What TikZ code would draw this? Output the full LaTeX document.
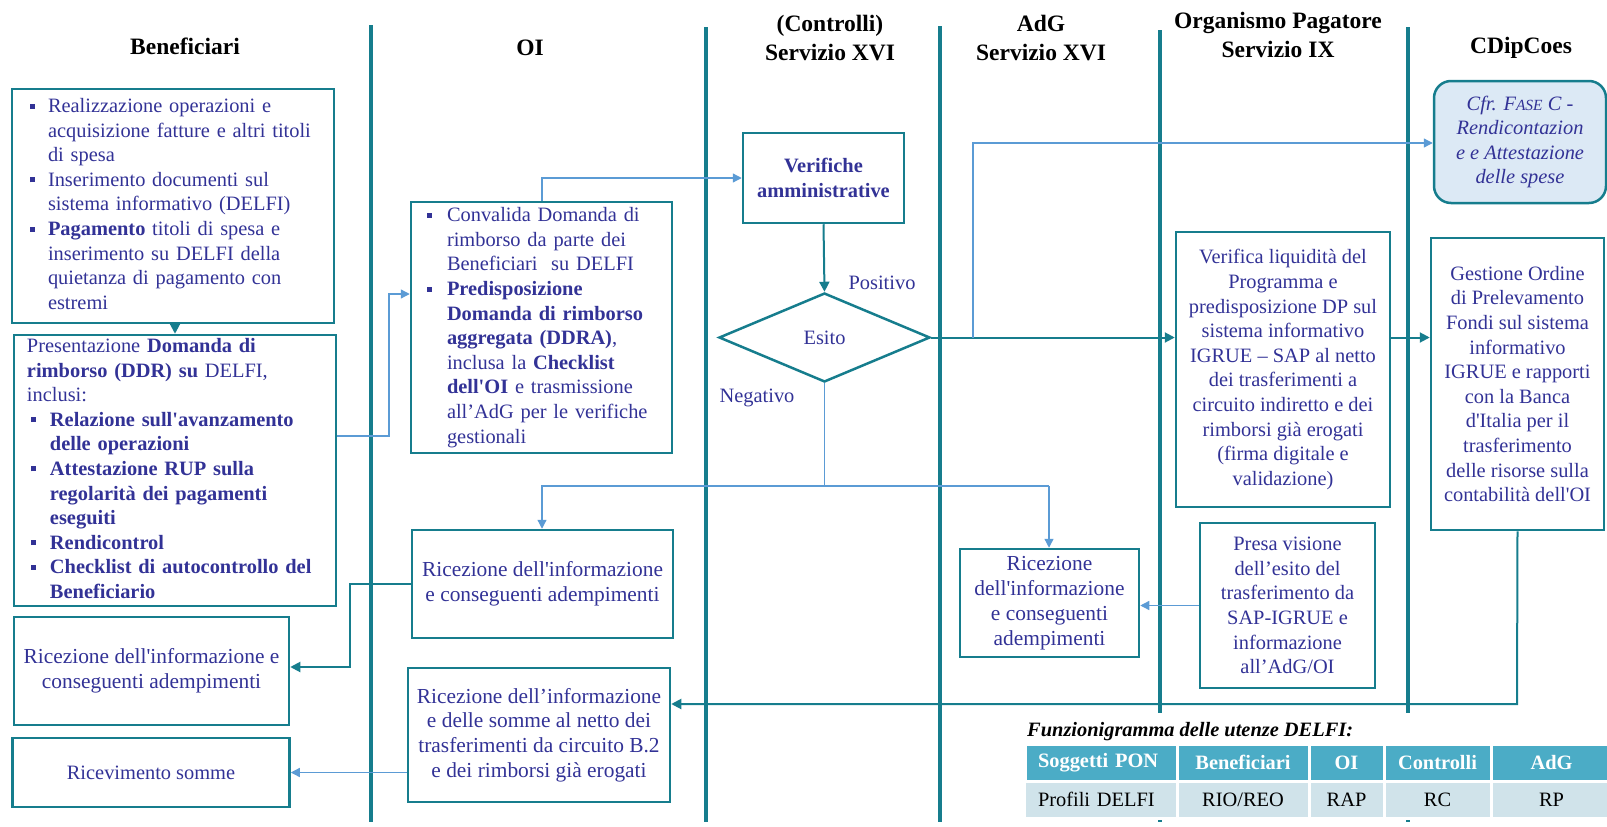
\documentclass[tikz,border=0pt]{standalone}
\usepackage{fontspec}
\setmainfont{Liberation Serif}[Ligatures=TeXOff]
\usetikzlibrary{arrows.meta,shapes.geometric}

\definecolor{tealc}{RGB}{22,125,141}
\definecolor{linkblue}{RGB}{91,155,213}
\definecolor{txtblue}{RGB}{50,50,150}
\definecolor{cfrfill}{RGB}{220,233,245}
\definecolor{thead}{RGB}{75,172,198}
\definecolor{trow}{RGB}{208,227,234}

\newcommand\fsBody{\fontsize{20.4}{24.6}\selectfont}
\newcommand\fsBig{\fontsize{21.4}{24.8}\selectfont}
\newcommand\fsHead{\fontsize{23.5}{29}\selectfont}
\newcommand\bul{\rule[4pt]{5pt}{5pt}}

\tikzset{
  lane/.style={draw=tealc, line width=3.5pt},
  box/.style={draw=tealc, line width=2.5pt, inner sep=0pt, text=txtblue,
    font=\fsBody, align=center},
  listbox/.style={box, align=left},
  head/.style={font=\fsHead\bfseries, align=center, text=black, inner sep=0pt},
  flow/.style={draw=tealc, line width=2pt, -{Triangle[length=10pt,width=10pt]}},
  link/.style={draw=linkblue, line width=1.3pt},
  linkarrow/.style={link, -{Triangle[length=9pt,width=9pt]}},
  lbl/.style={font=\fsBody, text=txtblue, inner sep=0pt},
  cell/.style={draw=white, line width=3pt, minimum height=37pt, inner sep=0pt, font=\fsBody},
  thcell/.style={cell, fill=thead, text=white, font=\fsBody\bfseries},
  tdcell/.style={cell, fill=trow, text=black},
}

\begin{document}
\begin{tikzpicture}[x=1pt,y=-1pt]
\useasboundingbox (0,0) rectangle (1607,827);

% swimlane separators
\foreach \lx/\ly in {371/25, 706/27, 940/26, 1160/30, 1408/27}
  \draw[lane] (\lx,\ly) -- (\lx,822);

% lane headings
\node[head] (hBen) at (185,46) {Beneficiari};
\node[head] (hOI)  at (530,48) {OI};
\node[head] (hCtl) at (830,38) {(Controlli)\\Servizio XVI};
\node[head] (hAdG) at (1041,38) {AdG\\Servizio XVI};
\node[head] (hOP)  at (1278,35) {Organismo Pagatore\\Servizio IX};
\node[head] (hCD)  at (1521,48) {CDipCoes};

% Beneficiari
\node[listbox, text width=286pt, inner xsep=18pt, minimum height=234pt] (b1) at (173,206) {%
\begin{tabular}{@{}p{18pt}@{}l@{}}
\bul & Realizzazione operazioni e\\
     & acquisizione fatture e altri titoli\\
     & di spesa\\
\bul & Inserimento documenti sul\\
     & sistema informativo (DELFI)\\
\bul & \textbf{Pagamento} titoli di spesa e\\
     & inserimento su DELFI della\\
     & quietanza di pagamento con\\
     & estremi
\end{tabular}};

\node[listbox, text width=296pt, inner xsep=13pt, minimum height=271pt] (b2) at (175,470.5) {%
\begin{tabular}{@{\hspace{4pt}}p{19pt}@{}l@{}}
\multicolumn{2}{@{}l@{}}{Presentazione \textbf{Domanda di}}\\
\multicolumn{2}{@{}l@{}}{\textbf{rimborso (DDR) su} DELFI,}\\
\multicolumn{2}{@{}l@{}}{inclusi:}\\
\bul & \textbf{Relazione sull'avanzamento}\\
     & \textbf{delle operazioni}\\
\bul & \textbf{Attestazione RUP sulla}\\
     & \textbf{regolarità dei pagamenti}\\
     & \textbf{eseguiti}\\
\bul & \textbf{Rendicontrol}\\
\bul & \textbf{Checklist di autocontrollo del}\\
     & \textbf{Beneficiario}
\end{tabular}};

\node[box, font=\fsBig, minimum width=275pt, minimum height=108pt] (b4) at (151.5,671)
  {Ricezione dell'informazione e\\conseguenti adempimenti};
\node[box, minimum width=277pt, minimum height=69pt] (b5) at (151,772.5) {Ricevimento somme};

% OI
\node[listbox, text width=229pt, inner xsep=16pt, minimum height=251pt] (b3) at (541.5,327.5) {%
\begin{tabular}{@{}p{20pt}@{}l@{}}
\bul & Convalida Domanda di\\
     & rimborso da parte dei\\
     & Beneficiari\ \ su DELFI\\
\bul & \textbf{Predisposizione}\\
     & \textbf{Domanda di rimborso}\\
     & \textbf{aggregata (DDRA)},\\
     & inclusa la \textbf{Checklist}\\
     & \textbf{dell'OI} e trasmissione\\
     & all’AdG per le verifiche\\
     & gestionali
\end{tabular}};

\node[box, font=\fsBig, minimum width=261pt, minimum height=108pt] (b6) at (542.5,584)
  {Ricezione dell'informazione\\e conseguenti adempimenti};
\node[box, font=\fsBig, minimum width=262pt, minimum height=134pt] (b7) at (539,735)
  {Ricezione dell’informazione\\e delle somme al netto dei\\trasferimenti da circuito B.2\\e dei rimborsi già erogati};

% Controlli
\node[box, font=\fsBody\bfseries, minimum width=161pt, minimum height=90pt] (ver) at (823.5,178)
  {Verifiche\\amministrative};
\node[box, diamond, minimum width=211pt, minimum height=89pt] (esito) at (824.5,337.5) {Esito};
\node[lbl] (pos) at (882,283) {Positivo};
\node[lbl] (neg) at (757,398) {Negativo};

% AdG
\node[box, font=\fsBig, minimum width=179pt, minimum height=108pt] (b8) at (1049.5,603)
  {Ricezione\\dell'informazione\\e conseguenti\\adempimenti};

% Organismo Pagatore
\node[box, minimum width=214pt, minimum height=275pt] (b9) at (1283,369.5)
  {Verifica liquidità del\\Programma e\\predisposizione DP sul\\sistema informativo\\IGRUE – SAP al netto\\dei trasferimenti a\\circuito indiretto e dei\\rimborsi già erogati\\(firma digitale e\\validazione)};
\node[box, minimum width=175pt, minimum height=165pt] (b10) at (1287.5,605.5)
  {Presa visione\\dell’esito del\\trasferimento da\\SAP-IGRUE e\\informazione\\all’AdG/OI};

% CDipCoes
\node[box, rounded corners=17pt, fill=cfrfill, font=\fsBody\itshape, minimum width=172pt, minimum height=122pt] (cfr) at (1520,142)
  {Cfr. F{\fontsize{15.5}{24.6}\selectfont ASE} C -\\Rendicontazion\\e e Attestazione\\delle spese};
\node[box, minimum width=173pt, minimum height=292pt] (gest) at (1517.5,384)
  {Gestione Ordine\\di Prelevamento\\Fondi sul sistema\\informativo\\IGRUE e rapporti\\con la Banca\\d'Italia per il\\trasferimento\\delle risorse sulla\\contabilità dell'OI};

% bend points
\coordinate (k2) at (389,436);
\coordinate (k2t) at (389,294);
\coordinate (k3) at (542,178);
\coordinate (k6) at (973,143);
\coordinate (k8) at (1517,704);
\coordinate (k9a) at (542,486);
\coordinate (k9b) at (1049,486);
\coordinate (k11) at (350,667);

% connectors
\draw[flow] (b1.south -| b2.north) -- (b2.north);
\draw[linkarrow] (b2.east |- k2) -- (k2) -- (k2t) -- (k2t -| b3.west);
\draw[linkarrow] (k3 |- b3.north) -- (k3) -- (k3 -| ver.west);
\draw[flow] (ver.south) -- (esito.north);
\draw[flow] (esito.east) -- (esito.east -| b9.west);
\draw[linkarrow] (k6 |- esito.east) -- (k6) -- (k6 -| cfr.west);
\draw[flow] (esito.east -| b9.east) -- (esito.east -| gest.west);
\draw[flow] (gest.south) -- (k8) -- (k8 -| b7.east);
\draw[link] (esito.south) -- (esito.south |- k9a);
\draw[linkarrow] (k9b) -- (k9a) -- (k9a |- b6.north);
\draw[linkarrow] (k9b) -- (k9b |- b8.north);
\draw[linkarrow] (b10.west) -- (b10.west -| b8.east);
\draw[flow] (b6.west) -- (b6.west -| k11) -- (k11) -- (k11 -| b4.east);
\draw[linkarrow] (b5.east -| b7.west) -- (b5.east);

% DELFI profiles table
\fill[white] (1000,713) rectangle (1607,819);
\node[anchor=west, inner sep=0pt, font=\fsBody\bfseries\itshape] (ttl) at (1027,732)
  {Funzionigramma delle utenze DELFI:};
\node[thcell, minimum width=152pt, text width=126pt, inner xsep=13pt, align=left] (h1) at (1101,762.5) {Soggetti PON};
\node[thcell, minimum width=132pt] (h2) at (1243,762.5) {Beneficiari};
\node[thcell, minimum width=75pt]  (h3) at (1346.5,762.5) {OI};
\node[thcell, minimum width=107pt] (h4) at (1437.5,762.5) {Controlli};
\node[thcell, minimum width=121pt] (h5) at (1551.5,762.5) {AdG};
\node[tdcell, minimum width=152pt, text width=126pt, inner xsep=14pt, align=left] (r1) at (1101,799.5) {Profili DELFI};
\node[tdcell, minimum width=132pt] (r2) at (1243,799.5) {RIO/REO};
\node[tdcell, minimum width=75pt]  (r3) at (1346.5,799.5) {RAP};
\node[tdcell, minimum width=107pt] (r4) at (1437.5,799.5) {RC};
\node[tdcell, minimum width=121pt] (r5) at (1551.5,799.5) {RP};
\end{tikzpicture}
\end{document}
